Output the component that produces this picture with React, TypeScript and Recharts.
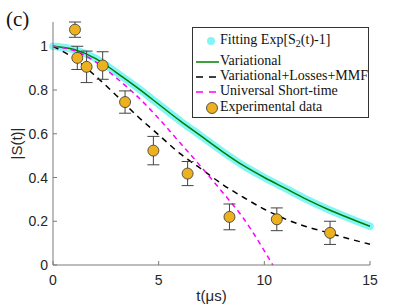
import React from "react";
import { ComposedChart, ErrorBar, Label, Line, Scatter, XAxis, YAxis } from "recharts";

const gridT = [0, 1, 2, 3, 4, 5, 6, 7, 8, 9, 10, 11, 12, 13, 14, 15];
const fittingS = [1.0, 0.985, 0.945, 0.88, 0.81, 0.735, 0.66, 0.59, 0.52, 0.455, 0.4, 0.35, 0.3, 0.255, 0.215, 0.177];
const variationalS = [1.0, 0.985, 0.945, 0.88, 0.81, 0.735, 0.66, 0.59, 0.52, 0.455, 0.4, 0.35, 0.3, 0.255, 0.215, 0.177];
const lossesS = [1.0, 0.945, 0.865, 0.775, 0.68, 0.595, 0.51, 0.44, 0.37, 0.31, 0.255, 0.21, 0.175, 0.148, 0.12, 0.095];

const shortT = [0, 1, 2, 3, 4, 5, 6, 7, 8, 9, 10, 10.4];
const shortS = [1.0, 0.98, 0.93, 0.855, 0.77, 0.67, 0.56, 0.45, 0.335, 0.215, 0.065, 0];

const expT = [1.04, 1.15, 1.59, 2.35, 3.41, 4.75, 6.37, 8.35, 10.59, 13.11];
const expS = [1.076, 0.947, 0.906, 0.912, 0.745, 0.523, 0.418, 0.22, 0.209, 0.147];
const expErr = [0.035, 0.053, 0.072, 0.063, 0.051, 0.065, 0.055, 0.059, 0.052, 0.053];

const xTicks = [0, 5, 10, 15];
const yTicks = [0, 0.2, 0.4, 0.6, 0.8, 1];

const toRows = (ts: number[], vs: number[]) => ts.map((t, i) => ({ t, v: vs[i] }));
const fittingData = toRows(gridT, fittingS);
const variationalData = toRows(gridT, variationalS);
const lossesData = toRows(gridT, lossesS);
const shortData = toRows(shortT, shortS);
const expData = expT.map((t, i) => ({ t, v: expS[i], err: expErr[i] }));

const AXIS = "#7a7a7a";
const TXT = "#262626";
const CYAN = "#84f5f5";
const TICK_FONT = "'Liberation Sans', Arial, sans-serif";

function BottomTick({ x, y, payload }: any) {
  return (
    <g>
      <line x1={x} x2={x} y1={y} y2={y - 4} stroke={AXIS} />
      <text x={x} y={y + 20} textAnchor="middle" fill={TXT} fontSize={14} fontFamily={TICK_FONT}>
        {payload.value}
      </text>
    </g>
  );
}

function LeftTick({ x, y, payload }: any) {
  return (
    <g>
      <line x1={x} x2={x + 4} y1={y} y2={y} stroke={AXIS} />
      <text x={x - 5} y={y + 5} textAnchor="end" fill={TXT} fontSize={14} fontFamily={TICK_FONT}>
        {payload.value}
      </text>
    </g>
  );
}

function TopTick({ x, y }: any) {
  return <line x1={x} x2={x} y1={y} y2={y + 4} stroke={AXIS} />;
}

function RightTick({ x, y }: any) {
  return <line x1={x} x2={x - 4} y1={y} y2={y} stroke={AXIS} />;
}

function Dot({ cx, cy }: any) {
  return <circle cx={cx} cy={cy} r={5.5} fill="#EDB120" stroke="#333" strokeWidth={0.8} />;
}

function NoDot() {
  return <g />;
}

const legendRows = [
  { key: "fit", top: 13 },
  { key: "var", top: 34 },
  { key: "loss", top: 49 },
  { key: "short", top: 64 },
  { key: "exp", top: 80 },
];

function LegendIcon({ kind }: { kind: string }) {
  return (
    <svg width={24} height={14} style={{ position: "absolute", left: 2, top: -7 }}>
      {kind === "fit" && <circle cx={16} cy={7} r={4} fill={CYAN} />}
      {kind === "var" && <line x1={1} x2={24} y1={7} y2={7} stroke="#008000" strokeWidth={1.5} />}
      {kind === "loss" && <line x1={1} x2={24} y1={7} y2={7} stroke="#000" strokeWidth={1.5} strokeDasharray="7 6" />}
      {kind === "short" && <line x1={1} x2={24} y1={7} y2={7} stroke="#ff00ff" strokeWidth={1.5} strokeDasharray="7 6" />}
      {kind === "exp" && <circle cx={17} cy={7} r={5.5} fill="#EDB120" stroke="#333" strokeWidth={0.8} />}
    </svg>
  );
}

function LegendBox() {
  const labels: Record<string, React.ReactNode> = {
    fit: (
      <>
        Fitting Exp[S<sub style={{ fontSize: 10, verticalAlign: -3 }}>2</sub>(t)-1]
      </>
    ),
    var: "Variational",
    loss: "Variational+Losses+MMF",
    short: "Universal Short-time",
    exp: "Experimental data",
  };
  return (
    <div
      style={{
        position: "absolute",
        left: 192,
        top: 27,
        width: 175,
        height: 89,
        border: "1px solid #333",
        background: "#fff",
        fontFamily: "'Liberation Serif', 'Times New Roman', serif",
        fontSize: 14,
        color: "#111",
      }}
    >
      {legendRows.map((r) => (
        <div key={r.key} style={{ position: "absolute", left: 0, top: r.top, width: "100%" }}>
          <LegendIcon kind={r.key} />
          <span style={{ position: "absolute", left: 27, top: -9, whiteSpace: "nowrap", lineHeight: "16px" }}>
            {labels[r.key]}
          </span>
        </div>
      ))}
    </div>
  );
}

export default function App() {
  return (
    <div style={{ position: "absolute", left: 0, top: 0, width: 409, height: 307, background: "#fff" }}>
      <ComposedChart width={409} height={307} margin={{ top: 22, right: 39, bottom: 0, left: 8 }}>
        <XAxis
          dataKey="t"
          type="number"
          domain={[0, 15]}
          ticks={xTicks}
          height={42}
          stroke={AXIS}
          tickSize={0}
          tickMargin={0}
          tick={<BottomTick />}
        >
          <Label
            value="t(μs)"
            position="insideBottom"
            offset={6}
            style={{ fontSize: 15, fill: TXT, fontFamily: TICK_FONT }}
          />
        </XAxis>
        <XAxis
          xAxisId="top"
          orientation="top"
          type="number"
          dataKey="t"
          domain={[0, 15]}
          ticks={xTicks}
          height={0}
          stroke={AXIS}
          tickSize={0}
          tickMargin={0}
          tick={<TopTick />}
        />
        <YAxis
          type="number"
          domain={[0, 1.1]}
          ticks={yTicks}
          width={45}
          stroke={AXIS}
          tickSize={0}
          tickMargin={0}
          tick={<LeftTick />}
        >
          <Label
            value="|S(t)|"
            angle={-90}
            position="insideLeft"
            offset={9}
            style={{ fontSize: 15, fill: TXT, fontFamily: TICK_FONT, textAnchor: "middle" }}
          />
        </YAxis>
        <YAxis
          yAxisId="right"
          orientation="right"
          type="number"
          domain={[0, 1.1]}
          ticks={yTicks}
          width={0}
          stroke={AXIS}
          tickSize={0}
          tickMargin={0}
          tick={<RightTick />}
        />

        <Line
          data={fittingData}
          dataKey="v"
          type="monotone"
          stroke={CYAN}
          strokeWidth={7.5}
          strokeLinecap="round"
          dot={false}
          isAnimationActive={false}
        />
        <Line
          data={variationalData}
          dataKey="v"
          type="monotone"
          stroke="#008000"
          strokeWidth={1.5}
          dot={false}
          isAnimationActive={false}
        />
        <Line
          data={lossesData}
          dataKey="v"
          type="monotone"
          stroke="#000"
          strokeWidth={1.5}
          strokeDasharray="6 5"
          dot={false}
          isAnimationActive={false}
        />
        <Line
          data={shortData}
          dataKey="v"
          type="monotone"
          stroke="#ff00ff"
          strokeWidth={1.5}
          strokeDasharray="5 4"
          dot={false}
          isAnimationActive={false}
        />
        {/* error bars first so the markers sit on top of them */}
        <Scatter data={expData} dataKey="v" shape={<NoDot />} isAnimationActive={false}>
          <ErrorBar dataKey="err" direction="y" width={6} stroke="#444" strokeWidth={1} />
        </Scatter>
        <Scatter data={expData} dataKey="v" shape={<Dot />} isAnimationActive={false} />
      </ComposedChart>

      <div
        style={{
          position: "absolute",
          left: 6,
          top: 7,
          fontFamily: "'Liberation Serif', 'Times New Roman', serif",
          fontSize: 21,
          color: "#111",
        }}
      >
        (c)
      </div>
      <LegendBox />
    </div>
  );
}
